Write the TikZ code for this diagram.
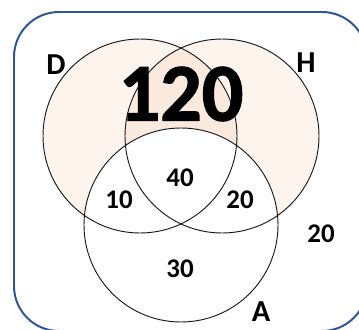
\documentclass[tikz,border=0pt]{standalone}
\usepackage{fontspec}
\setmainfont{Carlito}
\newfontfamily\heavyfont{Carlito}[UprightFont=* Bold, UprightFeatures={FakeBold=1.5}]
\usepackage{xcolor}
\usetikzlibrary{positioning}

\definecolor{peach}{RGB}{253,244,238}
\definecolor{peachdk}{RGB}{250,233,221}
\definecolor{frameblue}{RGB}{47,85,151}

\begin{document}
\begin{tikzpicture}[
    x=0.03cm, y=-0.03cm,
    every node/.style={font=\fontsize{23}{23}\selectfont\bfseries,
                       inner sep=0pt},
    setlbl/.style={font=\fontsize{26}{26}\selectfont\bfseries},
    ring/.style={draw=black!90, line width=0.8pt}
  ]
  \useasboundingbox (0,0) rectangle (359,329);

  % sets D, H, A
  \coordinate (cD) at (140,136);
  \coordinate (cH) at (222,136);
  \coordinate (cA) at (181,225);

  \fill[peach] (cD) circle[radius=97];
  \fill[peach] (cH) circle[radius=97];
  \begin{scope}
    \clip (cD) circle[radius=97];
    \fill[peachdk] (cH) circle[radius=97];
  \end{scope}
  \fill[white] (cA) circle[radius=97];

  \draw[ring] (cD) circle[radius=97];
  \draw[ring] (cH) circle[radius=97];
  \draw[ring] (cA) circle[radius=97];

  % universe
  \draw[frameblue, line width=1.7pt, rounded corners=1.35cm]
    (14,12) rectangle (367,331);

  \node[setlbl] (lblD) at (56,65)  {D};
  \node[setlbl] (lblH) at (306,63) {H};
  \node[setlbl] (lblA) at (261,312) {A};

  \node[font=\fontsize{70}{70}\selectfont\heavyfont] (n120) at (181,94) {120};
  \node (n40)  at (180,178) {40};
  \node (n10)  at (119,200) {10};
  \node (n20i) at (240,200) {20};
  \node (n30)  at (180,269) {30};
  \node (n20o) at (321,234) {20};
\end{tikzpicture}
\end{document}
